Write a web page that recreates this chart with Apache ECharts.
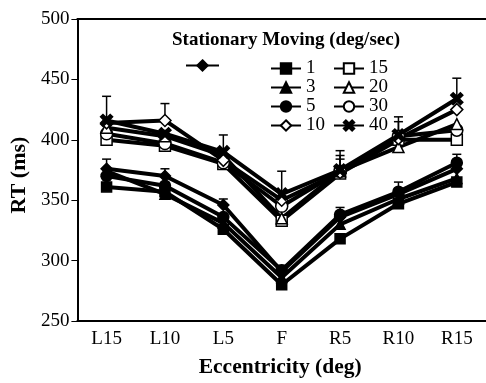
<!DOCTYPE html>
<html><head><meta charset="utf-8">
<script src="https://cdn.jsdelivr.net/npm/echarts@6/dist/echarts.min.js"></script>
<style>html,body{margin:0;padding:0;background:#fff}#c{width:486px;height:383px}</style>
</head><body><div id="c"></div>
<script>
const categories = ['L15','L10','L5','F','R5','R10','R15'];
const yTicks = [250, 300, 350, 400, 450, 500];
const stationary = [376, 370, 346, 291, 336, 355, 376];
const mv1  = [361, 357, 326, 280, 318, 347, 365];
const mv3  = [374, 355, 331, 286, 330, 351, 368];
const mv5  = [370, 362, 336, 292, 338, 357, 381];
const mv10 = [414, 416, 383, 350, 373, 401, 425];
const mv15 = [400, 395, 380, 333, 372, 400, 400];
const mv20 = [410, 403, 387, 335, 374, 394, 413];
const mv30 = [405, 397, 381, 345, 374, 403, 408];
const mv40 = [416, 405, 390, 355, 375, 404, 434];
const errStationary = [8, 6, 5, null, null, null, null];
const err5  = [null, null, null, 4, 6, 8, 7];
const err10 = [null, 14, null, null, 11, 14, null];
const err20 = [8, null, null, null, 13, null, null];
const err40 = [20, null, 14, 19, 16, 15, 17];

const XPATH = 'path://M0,2 L2,0 L5,3 L8,0 L10,2 L7,5 L10,8 L8,10 L5,7 L2,10 L0,8 L3,5 Z';
const serif = "'Liberation Serif', 'Times New Roman', serif";

function lineSeries(name, data, symbol, filled, size) {
  return {
    name, type: 'line', data, symbol, symbolSize: size || 11,
    showSymbol: true,
    lineStyle: { color: '#000', width: 4 },
    itemStyle: { color: filled ? '#000' : '#fff', borderColor: '#000', borderWidth: 1.5 },
    emphasis: { disabled: true },
    z: 3
  };
}
function errSeries(vals, errs) {
  const d = [];
  errs.forEach((e, i) => { if (e != null) d.push([i, vals[i], vals[i] + e]); });
  return {
    type: 'custom', data: d, z: 1, silent: true,
    encode: { x: 0, y: [1, 2] },
    renderItem: function (params, api) {
      const p = api.coord([api.value(0), api.value(1)]);
      const t = api.coord([api.value(0), api.value(2)]);
      return { type: 'group', children: [
        { type: 'line', shape: { x1: p[0], y1: p[1], x2: p[0], y2: t[1] }, style: { stroke: '#000', lineWidth: 1.5 } },
        { type: 'line', shape: { x1: p[0] - 4.5, y1: t[1], x2: p[0] + 4.5, y2: t[1] }, style: { stroke: '#000', lineWidth: 1.5 } }
      ]};
    }
  };
}

const chart = echarts.init(document.getElementById('c'), null, { renderer: 'canvas' });
const legendCommon = {
  orient: 'vertical', itemWidth: 30, itemHeight: 13, itemGap: 0, padding: 0,
  textStyle: { fontFamily: serif, fontSize: 19, color: '#000' },
  selectedMode: false
};
chart.setOption({
  backgroundColor: '#fff',
  animation: false,
  title: {
    text: 'Stationary Moving (deg/sec)', left: 172, top: 31, padding: 0,
    textStyle: { fontFamily: serif, fontSize: 19, fontWeight: 'bold', color: '#000' }
  },
  legend: [
    Object.assign({}, legendCommon, { data: ['Stationary'], left: 185, top: 59, itemWidth: 33, formatter: () => '' }),
    Object.assign({}, legendCommon, { data: ['1', '3', '5', '10'], left: 270, top: 59 }),
    Object.assign({}, legendCommon, { data: ['15', '20', '30', '40'], left: 333, top: 59 })
  ],
  grid: { left: 73, top: 19, width: 423, height: 311, containLabel: false },
  xAxis: [{
    type: 'category', data: categories, boundaryGap: true, position: 'bottom',
    axisLine: { lineStyle: { color: '#000', width: 2 } },
    axisTick: { inside: true, length: 5, alignWithLabel: true, lineStyle: { color: '#000', width: 1 } },
    axisLabel: { fontFamily: serif, fontSize: 19, color: '#000', margin: 9 },
    name: 'Eccentricity (deg)', nameLocation: 'middle', nameGap: 35,
    nameTextStyle: { fontFamily: serif, fontSize: 21.5, fontWeight: 'bold', color: '#000', padding: [0, 0, 0, -3] }
  }, {
    type: 'category', data: categories, position: 'top',
    axisLine: { lineStyle: { color: '#000', width: 2 } },
    axisTick: { show: false }, axisLabel: { show: false }
  }],
  yAxis: {
    type: 'value', min: yTicks[0], max: yTicks[yTicks.length - 1], interval: 50,
    axisLine: { show: true, lineStyle: { color: '#000', width: 2 } },
    axisTick: { show: true, length: 6, lineStyle: { color: '#000', width: 1 } },
    axisLabel: { fontFamily: serif, fontSize: 19, color: '#000', margin: 8 },
    splitLine: { show: false },
    name: 'RT (ms)', nameLocation: 'middle', nameGap: 45, nameRotate: 90,
    nameTextStyle: { fontFamily: serif, fontSize: 22, fontWeight: 'bold', color: '#000', padding: [0, 10, 0, 0] }
  },
  series: [
    errSeries(stationary, errStationary),
    errSeries(mv5, err5),
    errSeries(mv10, err10),
    errSeries(mv20, err20),
    errSeries(mv40, err40),
    lineSeries('15', mv15, 'rect', false, 11),
    lineSeries('30', mv30, 'circle', false, 12),
    lineSeries('20', mv20, 'triangle', false, 11),
    lineSeries('10', mv10, 'diamond', false, 12),
    lineSeries('40', mv40, XPATH, true, 12),
    lineSeries('1', mv1, 'rect', true, 10),
    lineSeries('3', mv3, 'triangle', true, 10),
    lineSeries('5', mv5, 'circle', true, 11),
    lineSeries('Stationary', stationary, 'diamond', true, 11)
  ]
});
</script></body></html>
